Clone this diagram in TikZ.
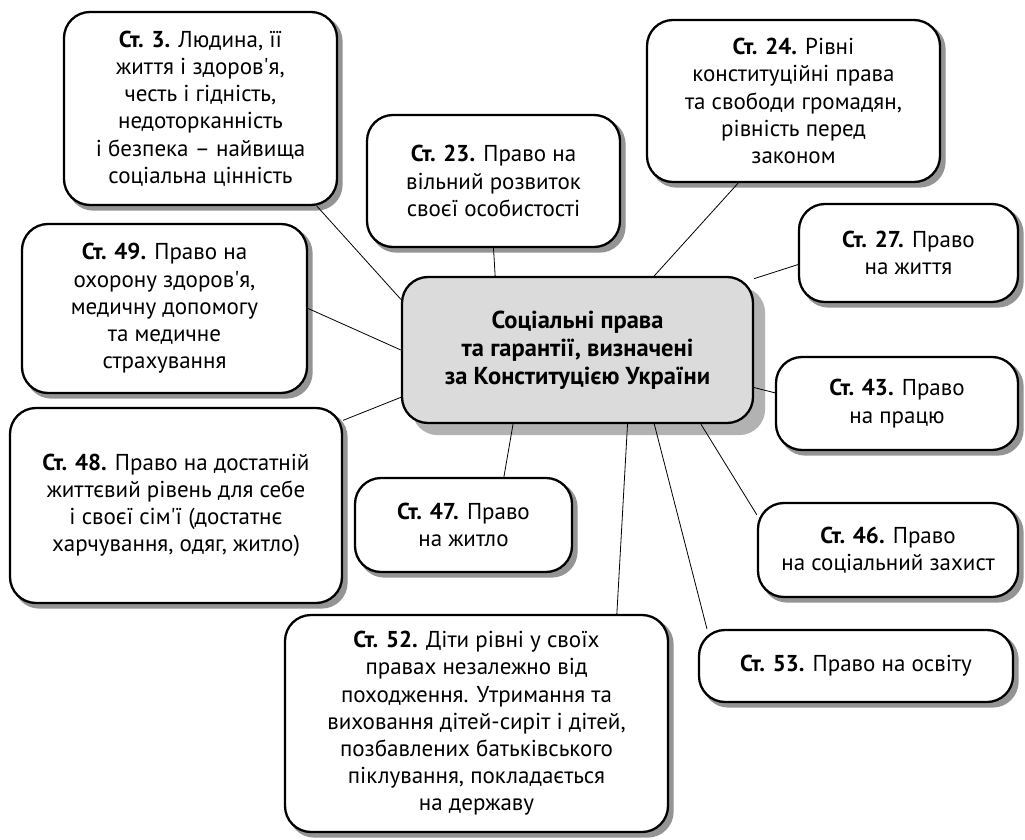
\documentclass[tikz,border=0pt]{standalone}
\usepackage{fontspec}
\setmainfont{PT Sans}
\usetikzlibrary{backgrounds}

\tikzset{
	plainbox/.style={draw=black, line width=2.3pt, rounded corners=26pt, align=center, inner sep=0pt},
	stbox/.style={plainbox, fill=white, font=\fontsize{23}{27.2}\selectfont},
	mainbox/.style={plainbox, fill=black!14, font=\bfseries\fontsize{24.5}{27.8}\selectfont},
	boxshadow/.style={fill=black!42, rounded corners=26pt},
	link/.style={line width=0.8pt},
}

\begin{document}
\begin{tikzpicture}[x=1pt, y=-1pt]
	\useasboundingbox (0,0) rectangle (1025,840);

	\node [mainbox, minimum width=351pt, minimum height=146pt] (main) at (577.5,350)
		{Соціальні права\\та гарантії, визначені\\за Конституцією України};

	\node [stbox, minimum width=273pt, minimum height=193pt] (st3) at (200.5,108.5)
		{\textbf{Ст. 3.} Людина, її\\життя і здоров\textquotesingle я,\\честь і гідність,\\недоторканність\\і безпека – найвища\\соціальна цінність};
	\node [stbox, minimum width=253pt, minimum height=132pt] (st23) at (493.5,181)
		{\textbf{Ст. 23.} Право на\\вільний розвиток\\своєї особистості};
	\node [stbox, minimum width=293pt, minimum height=162pt] (st24) at (793.5,101)
		{\textbf{Ст. 24.} Рівні\\конституційні права\\та свободи громадян,\\рівність перед\\законом};
	\node [stbox, minimum width=219pt, minimum height=98pt] (st27) at (908.5,253)
		{\textbf{Ст. 27.} Право\\на життя};
	\node [stbox, minimum width=285pt, minimum height=169pt] (st49) at (164.5,308.5)
		{\textbf{Ст. 49.} Право на\\охорону здоров\textquotesingle я,\\медичну допомогу\\та медичне\\страхування};
	\node [stbox, minimum width=242pt, minimum height=93pt] (st43) at (897,403.5)
		{\textbf{Ст. 43.} Право\\на працю};
	\node [stbox, minimum width=332pt, minimum height=195pt] (st48) at (176,505.5)
		{\textbf{Ст. 48.} Право на достатній\\життєвий рівень для себе\\і своєї сім\textquotesingle ї (достатнє\\харчування, одяг, житло)};
	\node [stbox, minimum width=217pt, minimum height=94pt] (st47) at (463.5,525)
		{\textbf{Ст. 47.} Право\\на житло};
	\node [stbox, minimum width=260pt, minimum height=94pt] (st46) at (888,550)
		{\textbf{Ст. 46.} Право\\на соціальний захист};
	\node [stbox, minimum width=383pt, minimum height=217pt] (st52) at (476.5,723.5)
		{\textbf{Ст. 52.} Діти рівні у своїх\\правах незалежно від\\походження. Утримання та\\виховання дітей-сиріт і дітей,\\позбавлених батьківського\\піклування, покладається\\на державу};
	\node [stbox, minimum width=314pt, minimum height=72pt] (st53) at (856,666)
		{\textbf{Ст. 53.} Право на освіту};

	\begin{scope}[on background layer]
		\fill [boxshadow, fill=black!30] ([shift={(11,11)}]main.south west) rectangle ([shift={(11,11)}]main.north east);
		\foreach \n in {st3, st23, st24, st27, st49, st43, st48, st47, st46, st52, st53} {
			\fill [boxshadow] ([shift={(4.5,4.5)}]\n.south west) rectangle ([shift={(4.5,4.5)}]\n.north east);
		}
		\foreach \a/\b in {st3.-40/main.164, st23.south/main.138, st24.-124/main.44,
			st27.-174/main.22, st49.east/main.180, st48.27/main.-165,
			st47.50/main.-131, st52.38/main.-56, st53.166/main.-44,
			st46.165/main.-31, st43.175/main.-12} {
			\draw [link] (\a) -- (\b);
		}
	\end{scope}
\end{tikzpicture}
\end{document}
